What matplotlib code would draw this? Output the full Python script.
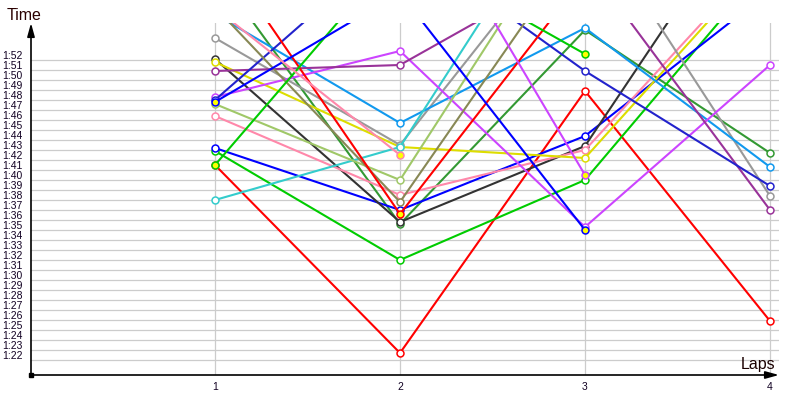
#
# lap chart: lap times per car
#

import numpy as np

import matplotlib
matplotlib.use('Agg')
import matplotlib.pyplot as plt
from matplotlib.transforms import ScaledTranslation

plt.rcParams['font.family'] = ['Liberation Sans', 'DejaVu Sans']

nan = np.nan
laps = [1, 2, 3, 4]

red_a = [101.5, 82.7, 108.9, 85.9]
green_a = [102.9, 92.0, 100.0, 121.8]
blue_a = [103.2, 97.0, 104.4, 118.9]
dark_a = [112.1, 95.8, 103.4, 131.0]
pink_a = [106.4, 98.5, 103.0, 123.1]
yellow_a = [111.8, 103.3, 102.2, 122.7]
gray_a = [114.2, 103.5, 126.9, 98.4]
sky_a = [116.6, 105.7, 115.2, 101.3]
cyan_a = [98.0, 103.3, 132.1, nan]
violet_a = [108.3, 112.9, 95.3, 111.5]
purple_a = [110.9, 111.5, 121.9, 97.0]
navy_a = [108.0, 124.2, 110.9, 99.4]
olive_a = [107.6, 100.0, 128.7, nan]
khaki_a = [117.3, 97.8, 124.4, nan]
dgreen_a = [121.0, 95.6, 115.0, 102.7]

red_b = [123.5, 96.6, 120.4, nan]
green_b = [101.5, 123.0, 112.6, nan]
blue_b = [107.8, 118.7, 95.0, nan]
pink_b = [117.2, 102.5, nan, nan]
violet_b = [nan, 131.7, 100.5, nan]

series = [
    (dgreen_a, '#339933', 'white'),
    (red_a, '#ff0000', 'white'),
    (green_a, '#00cc00', 'white'),
    (blue_a, '#0000ff', 'white'),
    (dark_a, '#333333', 'white'),
    (pink_a, '#ff88aa', 'white'),
    (yellow_a, '#dddd00', 'white'),
    (gray_a, '#999999', 'white'),
    (sky_a, '#1199ee', 'white'),
    (cyan_a, '#33cccc', 'white'),
    (violet_a, '#cc44ff', 'white'),
    (purple_a, '#993399', 'white'),
    (navy_a, '#2222cc', 'white'),
    (olive_a, '#a0c868', 'white'),
    (khaki_a, '#888855', 'white'),
    (red_b, '#ff0000', '#ffff00'),
    (green_b, '#00cc00', '#ffff00'),
    (blue_b, '#0000ff', '#ffff00'),
    (pink_b, '#ff88aa', '#ffff00'),
    (violet_b, '#cc44ff', '#ffff00'),
]

tick_secs = np.arange(82, 113)
tick_labels = ['%d:%02d' % (s // 60, s % 60) for s in tick_secs]


fig = plt.figure(figsize=(8, 4), dpi=100)
ax = fig.add_axes([31 / 800, 25 / 400, 748 / 800, 352 / 400])
ax.set_xlim(1 / 185, 749 / 185)
ax.set_ylim(80.5, 115.7)

for vals, col, face in series:
    ax.plot(laps, vals, color=col, lw=1.5, marker='o', ms=5,
            mfc=face, mec=col, mew=1.1)

ax.set_xticks(laps)
ax.set_yticks(tick_secs, tick_labels)
ax.grid(color='#cccccc', lw=0.9)
ax.set_axisbelow(True)
ax.tick_params(length=0, labelsize=7.5, labelcolor='#110022')
ax.tick_params(axis='y', pad=6)
ax.tick_params(axis='x', pad=5)

# labels sit a little above their grid line
for lab in ax.get_yticklabels():
    lab.set_transform(lab.get_transform() + ScaledTranslation(0, 0.05, fig.dpi_scale_trans))

for s in ax.spines.values():
    s.set_visible(False)

arrow = dict(arrowstyle='-|>,head_length=0.8,head_width=0.22', color='black',
             lw=1.2, shrinkA=0, shrinkB=0, mutation_scale=10)
ax.annotate('', xy=(0, 1), xytext=(0, 0), xycoords='axes fraction',
            textcoords='axes fraction', arrowprops=arrow, annotation_clip=False)
ax.annotate('', xy=(1, 0), xytext=(0, 0), xycoords='axes fraction',
            textcoords='axes fraction', arrowprops=arrow, annotation_clip=False)
ax.plot(0, 0, 's', ms=3, color='black', transform=ax.transAxes, clip_on=False)

fig.text(7 / 800, 1 - 15 / 400, 'Time', ha='left', va='center', fontsize=11.5, color='#2a0000')
fig.text(775 / 800, 1 - 364 / 400, 'Laps', ha='right', va='center', fontsize=11.5, color='#1a0000')

plt.savefig('out.png', dpi=100)
